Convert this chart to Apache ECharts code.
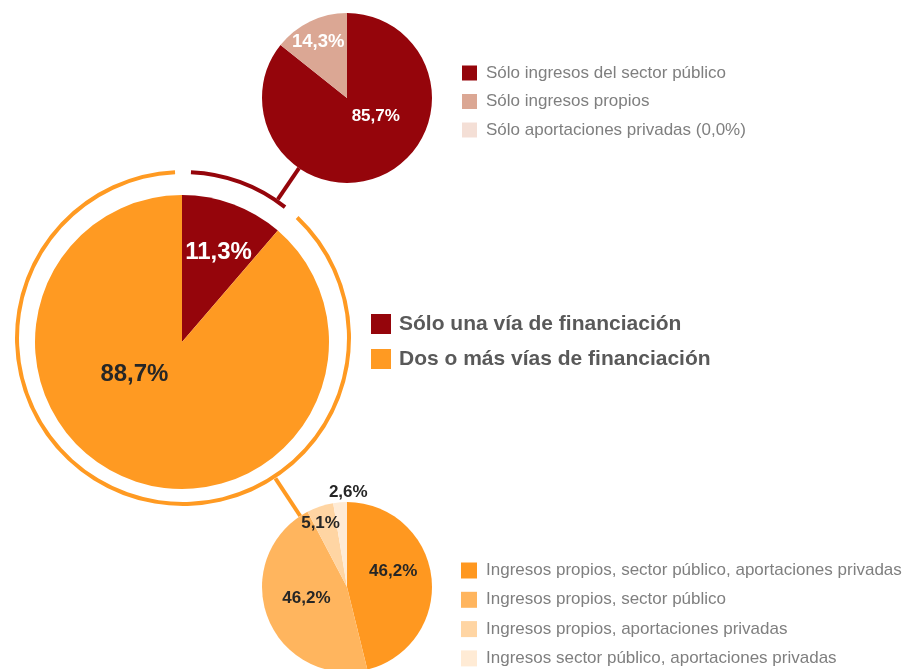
<!DOCTYPE html>
<html>
<head>
<meta charset="utf-8">
<script src="https://cdn.jsdelivr.net/npm/echarts@6/dist/echarts.min.js"></script>
<style>
  html, body { margin: 0; padding: 0; background: #ffffff; }
  #chart { width: 908px; height: 669px; }
</style>
</head>
<body>
<div id="chart"></div>
<script>
// Financing channels: share of entities with one vs. several funding sources
const mainCategories = ['Sólo una vía de financiación', 'Dos o más vías de financiación'];
const mainValues = [11.3, 88.7];

// Breakdown of the "single source" group
const singleCategories = ['Sólo ingresos del sector público', 'Sólo ingresos propios', 'Sólo aportaciones privadas'];
const singleValues = [85.7, 14.3, 0.0];

// Breakdown of the "two or more sources" group
const multiCategories = [
  'Ingresos propios, sector público, aportaciones privadas',
  'Ingresos propios, sector público',
  'Ingresos propios, aportaciones privadas',
  'Ingresos sector público, aportaciones privadas'
];
const multiValues = [46.2, 46.2, 5.1, 2.6];

// Palettes
const mainColors = ['#95050B', '#FF9A22'];
const singleColors = ['#95050B', '#DBA794', '#F4DFD6'];
const multiColors = ['#FF9820', '#FFB55E', '#FFD5A3', '#FFEBD5'];

// Layout (pixels)
const MAIN = { c: [182, 342], r: 147 };
const RING = { c: [183, 338], r: [164, 168] };
const TOP = { c: [347, 98], r: 85 };
const BOTTOM = { c: [347, 587], r: 85 };

// Small nudges for slice labels, per data index
const mainNudge = [[10, -18], [-21, -39]];
const topNudge = [[9, -23], [-9, -15]];
const bottomNudge = [[1, -10], [2, -5], [-12, -21], [5, -49]];

const LABEL_FONT = '"Liberation Sans", Arial, sans-serif';
const LEGEND_FONT = '"Liberation Sans", Arial, sans-serif';

const pct = v => v.toFixed(1).replace('.', ',') + '%';

function items(names, values, colors, labelColors, sizes) {
  return names.map((n, i) => ({
    name: n,
    value: values[i],
    itemStyle: { color: colors[i] },
    label: Object.assign({ color: labelColors[i], show: values[i] > 0 }, sizes ? { fontSize: sizes[i] } : {})
  }));
}

// Connector from the outer ring toward a detail pie, along the line of centres
function connector(target, color) {
  const dx = target.c[0] - RING.c[0];
  const dy = target.c[1] - RING.c[1];
  const d = Math.sqrt(dx * dx + dy * dy);
  const ux = dx / d, uy = dy / d;
  const r0 = RING.r[1];
  const r1 = d - target.r;
  return {
    type: 'line',
    silent: true,
    z: 1,
    shape: {
      x1: RING.c[0] + ux * r0, y1: RING.c[1] + uy * r0,
      x2: RING.c[0] + ux * r1, y2: RING.c[1] + uy * r1
    },
    style: { stroke: color, lineWidth: 4 }
  };
}

const pieCommon = {
  type: 'pie',
  startAngle: 90,
  clockwise: true,
  avoidLabelOverlap: false,
  labelLine: { show: false },
  emphasis: { disabled: true },
  animation: false
};

const chart = echarts.init(document.getElementById('chart'), null, { renderer: 'canvas' });

chart.setOption({
  backgroundColor: '#ffffff',
  animation: false,
  graphic: [
    connector(TOP, mainColors[0]),
    connector(BOTTOM, mainColors[1])
  ],
  legend: [
    {
      data: singleCategories,
      orient: 'vertical',
      left: 462, top: 64.5,
      padding: 0,
      icon: 'rect',
      itemWidth: 15, itemHeight: 15, itemGap: 11.5,
      selectedMode: false,
      formatter: name => {
        const i = singleCategories.indexOf(name);
        return singleValues[i] === 0 ? name + ' (' + pct(singleValues[i]) + ')' : name;
      },
      textStyle: { fontFamily: LEGEND_FONT, fontSize: 17, lineHeight: 17, color: '#7F7F7F', padding: [0, 0, 0, 4] }
    },
    {
      data: mainCategories,
      orient: 'vertical',
      left: 371, top: 313.5,
      padding: 0,
      icon: 'rect',
      itemWidth: 20, itemHeight: 20, itemGap: 14,
      selectedMode: false,
      textStyle: { fontFamily: LEGEND_FONT, fontSize: 21, lineHeight: 21, fontWeight: 'bold', color: '#595959', padding: [0, 0, 0, 3] }
    },
    {
      data: multiCategories,
      orient: 'vertical',
      left: 461, top: 562,
      padding: 0,
      icon: 'rect',
      itemWidth: 16, itemHeight: 16, itemGap: 12.3,
      selectedMode: false,
      textStyle: { fontFamily: LEGEND_FONT, fontSize: 17, lineHeight: 17, color: '#7F7F7F', padding: [0, 0, 0, 4] }
    }
  ],
  series: [
    // thin outer ring around the main pie
    Object.assign({}, pieCommon, {
      name: 'anillo',
      center: RING.c,
      radius: RING.r,
      padAngle: 5.5,
      silent: true,
      label: { show: false },
      data: mainCategories.map((n, i) => ({ name: n, value: mainValues[i], itemStyle: { color: mainColors[i] } }))
    }),
    // main pie
    Object.assign({}, pieCommon, {
      name: 'vías',
      center: MAIN.c,
      radius: MAIN.r,
      label: {
        position: 'inside',
        fontFamily: LABEL_FONT, fontSize: 24, fontWeight: 'bold',
        formatter: p => pct(p.value)
      },
      labelLayout: p => ({ dx: mainNudge[p.dataIndex][0], dy: mainNudge[p.dataIndex][1] }),
      data: items(mainCategories, mainValues, mainColors, ['#ffffff', '#262626'])
    }),
    // single-source breakdown
    Object.assign({}, pieCommon, {
      name: 'una vía',
      center: TOP.c,
      radius: TOP.r,
      label: {
        position: 'inside',
        fontFamily: LABEL_FONT, fontSize: 17, fontWeight: 'bold',
        formatter: p => pct(p.value)
      },
      labelLayout: p => ({ dx: (topNudge[p.dataIndex] || [0, 0])[0], dy: (topNudge[p.dataIndex] || [0, 0])[1] }),
      data: items(singleCategories, singleValues, singleColors, ['#ffffff', '#ffffff', '#ffffff'], [17, 18.5, 17])
    }),
    // multi-source breakdown
    Object.assign({}, pieCommon, {
      name: 'dos o más vías',
      center: BOTTOM.c,
      radius: BOTTOM.r,
      label: {
        position: 'inside',
        fontFamily: LABEL_FONT, fontSize: 17, fontWeight: 'bold',
        formatter: p => pct(p.value)
      },
      labelLayout: p => ({ dx: bottomNudge[p.dataIndex][0], dy: bottomNudge[p.dataIndex][1] }),
      data: items(multiCategories, multiValues, multiColors, ['#262626', '#262626', '#262626', '#262626'])
    })
  ]
});
</script>
</body>
</html>
